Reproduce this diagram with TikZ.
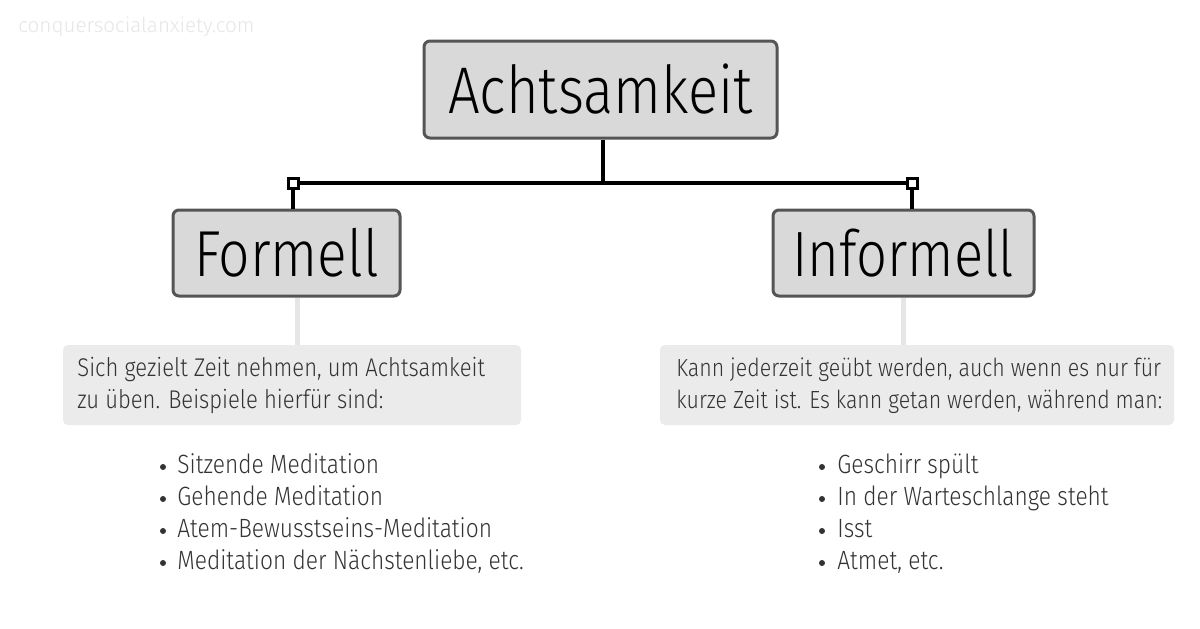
\documentclass[tikz,border=0pt]{standalone}
\usepackage{fontspec}
\setmainfont{Fira Sans}
\newfontfamily\lightfont[FakeStretch=0.86]{Fira Sans Light}
\newfontfamily\headfont[FakeStretch=0.85]{Fira Sans Light}
\newfontfamily\wmfont{Fira Sans Light}
\definecolor{boxborder}{HTML}{555555}
\definecolor{headfill}{HTML}{D9D9D9}
\definecolor{descfill}{HTML}{EBEBEB}
\definecolor{txt}{HTML}{333333}
\definecolor{wmc}{HTML}{E6E6E6}
\definecolor{lightline}{HTML}{E6E6E6}
\begin{document}
\begin{tikzpicture}[x=0.5pt,y=-0.5pt,
  head/.style={draw=boxborder, fill=headfill, line width=1.5pt, rounded corners=3pt, inner sep=0pt, text=black},
  desc/.style={fill=descfill, rounded corners=2.5pt, inner sep=0pt},
  conn/.style={line width=2pt, black},
  sq/.style={draw=black, fill=white, line width=1.5pt, minimum size=5pt, inner sep=0pt},
  lconn/.style={line width=2.5pt, lightline},
  body/.style={anchor=base west, inner sep=0pt, text=txt, align=left, font=\lightfont\fontsize{12.8}{16}\selectfont},
  item/.style={anchor=base west, inner sep=0pt, text=txt, font=\lightfont\fontsize{13.2}{16}\selectfont},
  bul/.style={circle, fill=txt, inner sep=0pt, minimum size=3pt},
]
\useasboundingbox[fill=white] (0,0) rectangle (1200,628);
\node[anchor=base west, inner sep=0pt, text=wmc, font=\wmfont\fontsize{10.3}{12}\selectfont] (wm) at (18,32) {conquersocialanxiety.com};

\node[head, minimum width=176.5pt, minimum height=48.5pt] (root) at (600.5,89.5) {\headfont\fontsize{33}{38}\selectfont Achtsamkeit};
\node[head, minimum width=113.5pt, minimum height=43pt] (formell) at (286.5,253) {\headfont\fontsize{32.5}{38}\selectfont Formell};
\node[head, minimum width=130.5pt, minimum height=43pt] (informell) at (903.5,253) {\headfont\fontsize{32}{38}\selectfont Informell};

\coordinate (j) at (603,183);
\coordinate (sl) at (293,183);
\coordinate (sr) at (912,183);
\draw[conn] (root.south -| j) -- (j);
\draw[conn] (sl) -- (sr);
\draw[conn] (sl) -- (sl |- formell.north);
\draw[conn] (sr) -- (sr |- informell.north);
\node[sq] (sql) at (sl) {};
\node[sq] (sqr) at (sr) {};

\node[desc, minimum width=229pt, minimum height=40pt] (dl) at (292,385) {};
\node[desc, minimum width=257pt, minimum height=40pt] (dr) at (917,385) {};
\coordinate (fl) at (297,0);
\draw[lconn] (formell.south -| fl) -- (dl.north -| fl);
\draw[lconn] (informell.south) -- (informell.south |- dr.north);

\node[body] (tl) at (77,408) {Sich gezielt Zeit nehmen, um Achtsamkeit\\zu üben. Beispiele hierfür sind:};
\node[body, font=\lightfont\fontsize{12.4}{16}\selectfont] (tr) at (676,408) {Kann jederzeit geübt werden, auch wenn es nur für\\kurze Zeit ist. Es kann getan werden, während man:};

\foreach \t [count=\i] in {Sitzende Meditation, Gehende Meditation, Atem-Bewusstseins-Meditation, {Meditation der Nächstenliebe, etc.}} {
  \node[bul] (bl\i) at (163, 435+32*\i) {};
  \node[item] (il\i) at (177, 441+32*\i) {\t};
}
\foreach \t [count=\i] in {Geschirr spült, In der Warteschlange steht, Isst, {Atmet, etc.}} {
  \node[bul] (br\i) at (822, 435+32*\i) {};
  \node[item] (ir\i) at (837, 441+32*\i) {\t};
}
\end{tikzpicture}
\end{document}
